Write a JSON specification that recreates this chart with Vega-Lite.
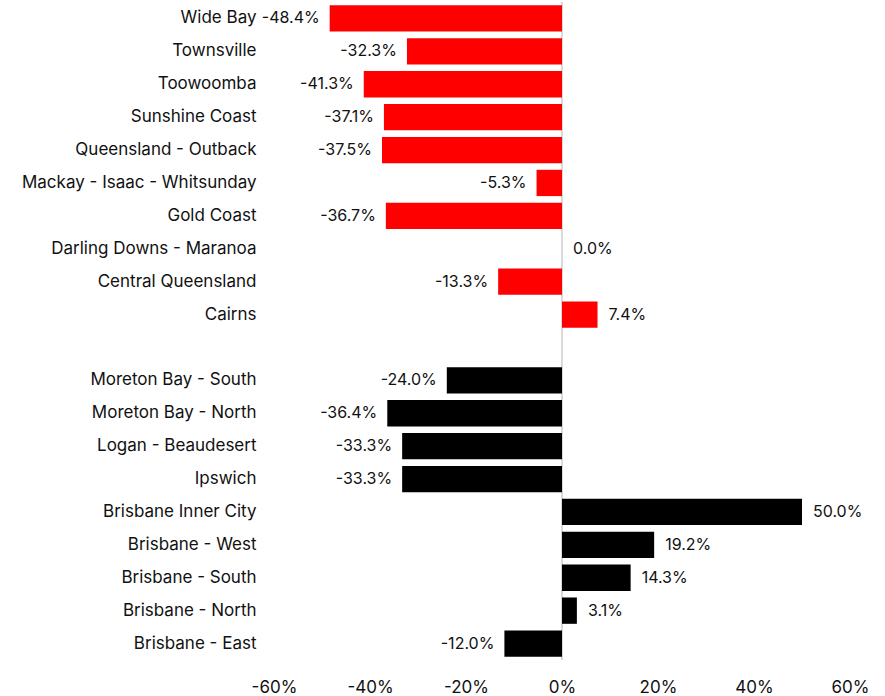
{
  "$schema": "https://vega.github.io/schema/vega-lite/v6.json",
  "autosize": {"type": "none"},
  "width": 576,
  "height": 658,
  "padding": {"left": 274, "top": 2, "right": 35, "bottom": 36},
  "config": {
    "view": {"stroke": null},
    "font": "Inter",
    "axis": {"labelFont": "Inter", "labelFontSize": 17, "labelColor": "#111111"}
  },
  "data": {
    "values": [
      {"region": "Wide Bay", "value": -48.4, "group": "Regional"},
      {"region": "Townsville", "value": -32.3, "group": "Regional"},
      {"region": "Toowoomba", "value": -41.3, "group": "Regional"},
      {"region": "Sunshine Coast", "value": -37.1, "group": "Regional"},
      {"region": "Queensland - Outback", "value": -37.5, "group": "Regional"},
      {"region": "Mackay - Isaac - Whitsunday", "value": -5.3, "group": "Regional"},
      {"region": "Gold Coast", "value": -36.7, "group": "Regional"},
      {"region": "Darling Downs - Maranoa", "value": 0.0, "group": "Regional"},
      {"region": "Central Queensland", "value": -13.3, "group": "Regional"},
      {"region": "Cairns", "value": 7.4, "group": "Regional"},
      {"region": "Moreton Bay - South", "value": -24.0, "group": "Brisbane"},
      {"region": "Moreton Bay - North", "value": -36.4, "group": "Brisbane"},
      {"region": "Logan - Beaudesert", "value": -33.3, "group": "Brisbane"},
      {"region": "Ipswich", "value": -33.3, "group": "Brisbane"},
      {"region": "Brisbane Inner City", "value": 50.0, "group": "Brisbane"},
      {"region": "Brisbane - West", "value": 19.2, "group": "Brisbane"},
      {"region": "Brisbane - South", "value": 14.3, "group": "Brisbane"},
      {"region": "Brisbane - North", "value": 3.1, "group": "Brisbane"},
      {"region": "Brisbane - East", "value": -12.0, "group": "Brisbane"}
    ]
  },
  "transform": [
    {"calculate": "replace(format(datum.value, '.1f'), '\u2212', '-') + '%'", "as": "label"}
  ],
  "encoding": {
    "y": {
      "field": "region",
      "type": "nominal",
      "sort": null,
      "scale": {
        "domain": ["Wide Bay", "Townsville", "Toowoomba", "Sunshine Coast", "Queensland - Outback", "Mackay - Isaac - Whitsunday", "Gold Coast", "Darling Downs - Maranoa", "Central Queensland", "Cairns", " ", "Moreton Bay - South", "Moreton Bay - North", "Logan - Beaudesert", "Ipswich", "Brisbane Inner City", "Brisbane - West", "Brisbane - South", "Brisbane - North", "Brisbane - East"],
        "paddingInner": 0.2,
        "paddingOuter": 0.1
      },
      "axis": {"title": null, "domain": false, "ticks": false, "labelPadding": 18, "labelLimit": 400}
    }
  },
  "layer": [
    {
      "mark": {"type": "rule", "color": "#d9d9d9", "strokeWidth": 1.5},
      "encoding": {"x": {"datum": 0, "type": "quantitative"}, "y": null}
    },
    {
      "mark": {"type": "bar"},
      "encoding": {
        "x": {
          "field": "value",
          "type": "quantitative",
          "scale": {"domain": [-60, 60], "nice": false},
          "axis": {
            "title": null,
            "values": [-60, -40, -20, 0, 20, 40, 60],
            "labelExpr": "datum.value + '%'",
            "labelFlush": false,
            "labelOverlap": false,
            "domain": false,
            "ticks": false,
            "grid": false,
            "labelPadding": 19
          }
        },
        "color": {
          "field": "group",
          "type": "nominal",
          "scale": {"domain": ["Regional", "Brisbane"], "range": ["#ff0000", "#000000"]},
          "legend": null
        }
      }
    },
    {
      "transform": [{"filter": "datum.value < 0"}],
      "mark": {"type": "text", "align": "right", "baseline": "middle", "dx": -10, "fontSize": 16, "font": "Inter", "color": "#111111"},
      "encoding": {
        "x": {"field": "value", "type": "quantitative"},
        "text": {"field": "label", "type": "nominal"}
      }
    },
    {
      "transform": [{"filter": "datum.value >= 0"}],
      "mark": {"type": "text", "align": "left", "baseline": "middle", "dx": 11, "fontSize": 16, "font": "Inter", "color": "#111111"},
      "encoding": {
        "x": {"field": "value", "type": "quantitative"},
        "text": {"field": "label", "type": "nominal"}
      }
    }
  ]
}
